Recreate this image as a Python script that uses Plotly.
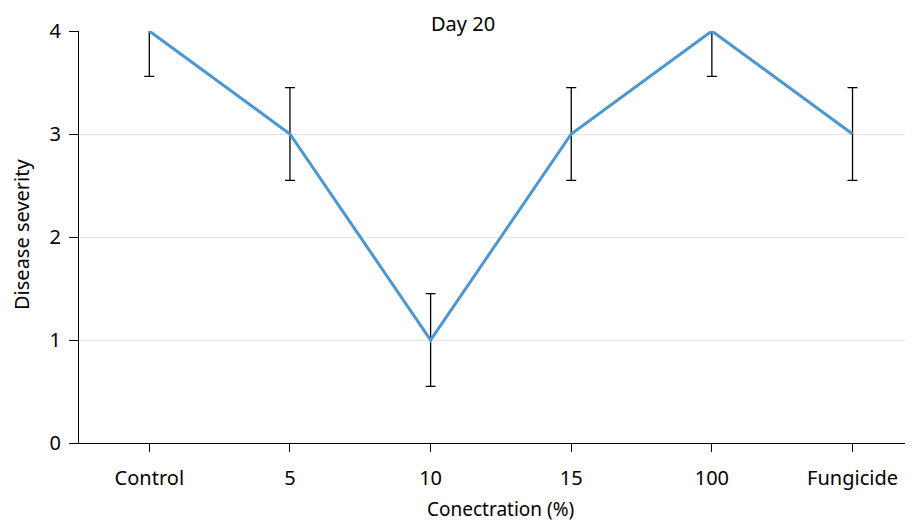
import plotly.graph_objects as go

categories = ["Control", "5", "10", "15", "100", "Fungicide"]
severity = [4, 3, 1, 3, 4, 3]
error = [0.44, 0.45, 0.45, 0.45, 0.44, 0.45]

fig = go.Figure()
fig.add_trace(go.Scatter(
    x=categories, y=severity, mode="lines",
    line=dict(color="#4a97d2", width=3),
    error_y=dict(type="data", array=error, visible=True, color="black", thickness=1.3, width=5),
))

font_family = "Noto Sans, Open Sans, sans-serif"
FS = 20
fig.update_layout(
    width=905, height=515,
    margin=dict(l=71, r=0, t=23, b=80),
    paper_bgcolor="white", plot_bgcolor="white",
    font=dict(family=font_family, size=FS, color="black"),
    showlegend=False,
    xaxis=dict(
        type="category", range=[-0.5, 5.43], automargin=False,
        showline=True, linecolor="black", linewidth=1,
        ticks="outside", ticklen=8, tickcolor="black",
        tickfont=dict(size=FS), ticklabelstandoff=9,
        showgrid=False,
    ),
    yaxis=dict(
        range=[0, 4], tickvals=[0, 1, 2, 3, 4], automargin=False,
        showline=True, linecolor="black", linewidth=1,
        ticks="outside", ticklen=9, tickcolor="black",
        tickfont=dict(size=FS), ticklabelstandoff=4,
        showgrid=True, gridcolor="#e3e3e3",
        zeroline=False,
    ),
    annotations=[
        dict(text="Day 20", x=0.4604, y=1, xref="paper", yref="paper",
             xanchor="center", yanchor="middle", yshift=8, showarrow=False,
             font=dict(size=FS)),
        dict(text="Conectration (%)", x=0.5048, y=0, xref="paper", yref="paper",
             xanchor="center", yanchor="bottom", yshift=-80, showarrow=False,
             borderpad=0, font=dict(size=19)),
        dict(text="Disease severity", x=0, y=0.5049, xref="paper", yref="paper",
             xanchor="center", yanchor="middle", xshift=-57, textangle=-90,
             showarrow=False, font=dict(size=FS)),
    ],
)

fig.write_html("out.html")
